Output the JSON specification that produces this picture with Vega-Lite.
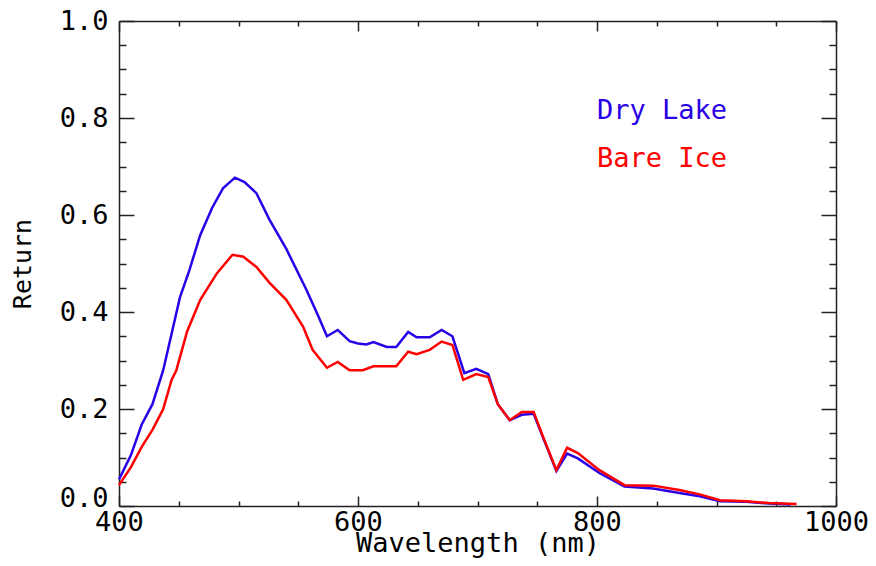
{
  "$schema": "https://vega.github.io/schema/vega-lite/v6.json",
  "width": 717,
  "height": 485,
  "autosize": {"type": "none"},
  "padding": {"left": 119, "top": 21, "right": 40, "bottom": 60},
  "background": "white",
  "config": {
    "view": {"stroke": null},
    "font": "DejaVu Sans Mono",
    "axis": {
      "labelFont": "DejaVu Sans Mono",
      "titleFont": "DejaVu Sans Mono",
      "labelColor": "black",
      "titleColor": "black",
      "domainColor": "#222222",
      "tickColor": "#222222",
      "grid": false,
      "labelFontWeight": "normal",
      "titleFontWeight": "normal"
    }
  },
  "datasets": {
    "spectra": [
      {"wl": 400, "v": 0.055, "s": "Dry Lake"},
      {"wl": 410, "v": 0.105, "s": "Dry Lake"},
      {"wl": 419, "v": 0.168, "s": "Dry Lake"},
      {"wl": 428, "v": 0.21, "s": "Dry Lake"},
      {"wl": 437, "v": 0.28, "s": "Dry Lake"},
      {"wl": 451, "v": 0.43, "s": "Dry Lake"},
      {"wl": 459, "v": 0.487, "s": "Dry Lake"},
      {"wl": 468, "v": 0.559, "s": "Dry Lake"},
      {"wl": 478, "v": 0.615, "s": "Dry Lake"},
      {"wl": 487, "v": 0.655, "s": "Dry Lake"},
      {"wl": 497, "v": 0.677, "s": "Dry Lake"},
      {"wl": 505, "v": 0.668, "s": "Dry Lake"},
      {"wl": 515, "v": 0.645, "s": "Dry Lake"},
      {"wl": 526, "v": 0.59, "s": "Dry Lake"},
      {"wl": 540, "v": 0.53, "s": "Dry Lake"},
      {"wl": 557, "v": 0.445, "s": "Dry Lake"},
      {"wl": 567, "v": 0.39, "s": "Dry Lake"},
      {"wl": 574, "v": 0.35, "s": "Dry Lake"},
      {"wl": 583, "v": 0.363, "s": "Dry Lake"},
      {"wl": 593, "v": 0.34, "s": "Dry Lake"},
      {"wl": 600, "v": 0.335, "s": "Dry Lake"},
      {"wl": 607, "v": 0.333, "s": "Dry Lake"},
      {"wl": 613, "v": 0.338, "s": "Dry Lake"},
      {"wl": 624, "v": 0.328, "s": "Dry Lake"},
      {"wl": 632, "v": 0.328, "s": "Dry Lake"},
      {"wl": 642, "v": 0.359, "s": "Dry Lake"},
      {"wl": 649, "v": 0.348, "s": "Dry Lake"},
      {"wl": 660, "v": 0.348, "s": "Dry Lake"},
      {"wl": 670, "v": 0.363, "s": "Dry Lake"},
      {"wl": 679, "v": 0.35, "s": "Dry Lake"},
      {"wl": 689, "v": 0.274, "s": "Dry Lake"},
      {"wl": 699, "v": 0.283, "s": "Dry Lake"},
      {"wl": 709, "v": 0.272, "s": "Dry Lake"},
      {"wl": 717, "v": 0.21, "s": "Dry Lake"},
      {"wl": 727, "v": 0.177, "s": "Dry Lake"},
      {"wl": 737, "v": 0.188, "s": "Dry Lake"},
      {"wl": 747, "v": 0.19, "s": "Dry Lake"},
      {"wl": 755, "v": 0.14, "s": "Dry Lake"},
      {"wl": 766, "v": 0.072, "s": "Dry Lake"},
      {"wl": 775, "v": 0.108, "s": "Dry Lake"},
      {"wl": 784, "v": 0.098, "s": "Dry Lake"},
      {"wl": 802, "v": 0.068, "s": "Dry Lake"},
      {"wl": 823, "v": 0.04, "s": "Dry Lake"},
      {"wl": 847, "v": 0.036, "s": "Dry Lake"},
      {"wl": 869, "v": 0.027, "s": "Dry Lake"},
      {"wl": 886, "v": 0.02, "s": "Dry Lake"},
      {"wl": 903, "v": 0.01, "s": "Dry Lake"},
      {"wl": 925, "v": 0.009, "s": "Dry Lake"},
      {"wl": 944, "v": 0.005, "s": "Dry Lake"},
      {"wl": 962, "v": 0.003, "s": "Dry Lake"},
      {"wl": 400, "v": 0.043, "s": "Bare Ice"},
      {"wl": 410, "v": 0.08, "s": "Bare Ice"},
      {"wl": 419, "v": 0.122, "s": "Bare Ice"},
      {"wl": 428, "v": 0.157, "s": "Bare Ice"},
      {"wl": 437, "v": 0.2, "s": "Bare Ice"},
      {"wl": 444, "v": 0.26, "s": "Bare Ice"},
      {"wl": 448, "v": 0.28, "s": "Bare Ice"},
      {"wl": 457, "v": 0.36, "s": "Bare Ice"},
      {"wl": 468, "v": 0.425, "s": "Bare Ice"},
      {"wl": 482, "v": 0.48, "s": "Bare Ice"},
      {"wl": 495, "v": 0.518, "s": "Bare Ice"},
      {"wl": 504, "v": 0.514, "s": "Bare Ice"},
      {"wl": 515, "v": 0.493, "s": "Bare Ice"},
      {"wl": 526, "v": 0.46, "s": "Bare Ice"},
      {"wl": 540, "v": 0.425, "s": "Bare Ice"},
      {"wl": 554, "v": 0.37, "s": "Bare Ice"},
      {"wl": 562, "v": 0.322, "s": "Bare Ice"},
      {"wl": 574, "v": 0.285, "s": "Bare Ice"},
      {"wl": 583, "v": 0.297, "s": "Bare Ice"},
      {"wl": 593, "v": 0.28, "s": "Bare Ice"},
      {"wl": 604, "v": 0.28, "s": "Bare Ice"},
      {"wl": 613, "v": 0.288, "s": "Bare Ice"},
      {"wl": 632, "v": 0.288, "s": "Bare Ice"},
      {"wl": 642, "v": 0.318, "s": "Bare Ice"},
      {"wl": 649, "v": 0.313, "s": "Bare Ice"},
      {"wl": 660, "v": 0.322, "s": "Bare Ice"},
      {"wl": 670, "v": 0.339, "s": "Bare Ice"},
      {"wl": 679, "v": 0.332, "s": "Bare Ice"},
      {"wl": 688, "v": 0.26, "s": "Bare Ice"},
      {"wl": 699, "v": 0.272, "s": "Bare Ice"},
      {"wl": 709, "v": 0.266, "s": "Bare Ice"},
      {"wl": 717, "v": 0.21, "s": "Bare Ice"},
      {"wl": 727, "v": 0.177, "s": "Bare Ice"},
      {"wl": 737, "v": 0.194, "s": "Bare Ice"},
      {"wl": 747, "v": 0.194, "s": "Bare Ice"},
      {"wl": 755, "v": 0.142, "s": "Bare Ice"},
      {"wl": 766, "v": 0.074, "s": "Bare Ice"},
      {"wl": 775, "v": 0.12, "s": "Bare Ice"},
      {"wl": 784, "v": 0.109, "s": "Bare Ice"},
      {"wl": 802, "v": 0.074, "s": "Bare Ice"},
      {"wl": 823, "v": 0.043, "s": "Bare Ice"},
      {"wl": 847, "v": 0.042, "s": "Bare Ice"},
      {"wl": 869, "v": 0.033, "s": "Bare Ice"},
      {"wl": 886, "v": 0.024, "s": "Bare Ice"},
      {"wl": 903, "v": 0.012, "s": "Bare Ice"},
      {"wl": 925, "v": 0.01, "s": "Bare Ice"},
      {"wl": 944, "v": 0.006, "s": "Bare Ice"},
      {"wl": 967, "v": 0.004, "s": "Bare Ice"}
    ],
    "labels": [
      {"wl": 800, "v": 0.798, "t": "Dry Lake"},
      {"wl": 800, "v": 0.699, "t": "Bare Ice"}
    ]
  },
  "data": {"name": "spectra"},
  "resolve": {"axis": {"x": "independent", "y": "independent"}},
  "layer": [
    {
      "transform": [{"filter": "datum.s === 'Dry Lake'"}],
      "mark": {"type": "line", "color": "#2a00e6", "strokeWidth": 2.5},
      "encoding": {
        "x": {
          "field": "wl", "type": "quantitative",
          "scale": {"domain": [400, 1000], "nice": false, "zero": false},
          "axis": {
            "orient": "bottom", "values": [400, 600, 800, 1000], "format": "d", "ticks": false,
            "domain": true, "domainWidth": 1.5,
            "labelFontSize": 27, "labelPadding": 3, "labelFlush": false, "labelOverlap": false,
            "title": "Wavelength (nm)", "titleFontSize": 27, "titlePadding": -5
          }
        },
        "y": {
          "field": "v", "type": "quantitative",
          "scale": {"domain": [0, 1], "nice": false},
          "axis": {
            "orient": "left", "values": [0, 0.2, 0.4, 0.6, 0.8, 1.0], "format": ".1f", "ticks": false,
            "domain": true, "domainWidth": 1.5,
            "labelFontSize": 27, "labelPadding": 11, "labelFlush": false, "labelOverlap": false,
            "labelBaseline": {"condition": {"test": "datum.value === 0", "value": "alphabetic"}, "value": "middle"},
            "title": "Return", "titleFontSize": 25, "titlePadding": 24
          }
        }
      }
    },
    {
      "transform": [{"filter": "datum.s === 'Bare Ice'"}],
      "mark": {"type": "line", "color": "#ff0000", "strokeWidth": 2.5},
      "encoding": {
        "x": {"field": "wl", "type": "quantitative", "axis": null},
        "y": {"field": "v", "type": "quantitative", "axis": null}
      }
    },
    {
      "mark": {"type": "line", "strokeOpacity": 0},
      "encoding": {
        "detail": {"field": "s"},
        "x": {
          "field": "wl", "type": "quantitative",
          "axis": {
            "orient": "bottom", "values": [400, 450, 500, 550, 600, 650, 700, 750, 800, 850, 900, 950, 1000],
            "labels": false, "domain": false, "title": null, "tickWidth": 1.5,
            "tickSize": {"condition": {"test": "datum.value % 200 === 0", "value": -10}, "value": -5}
          }
        },
        "y": {
          "field": "v", "type": "quantitative",
          "axis": {
            "orient": "left", "values": [0, 0.05, 0.1, 0.15, 0.2, 0.25, 0.3, 0.35, 0.4, 0.45, 0.5, 0.55, 0.6, 0.65, 0.7, 0.75, 0.8, 0.85, 0.9, 0.95, 1.0],
            "labels": false, "domain": false, "title": null, "tickWidth": 1.5,
            "tickSize": {"condition": {"test": "round(datum.value * 100) % 20 === 0", "value": -15}, "value": -7}
          }
        }
      }
    },
    {
      "mark": {"type": "line", "strokeOpacity": 0},
      "encoding": {
        "detail": {"field": "s"},
        "x": {
          "field": "wl", "type": "quantitative",
          "axis": {
            "orient": "top", "values": [400, 450, 500, 550, 600, 650, 700, 750, 800, 850, 900, 950, 1000],
            "labels": false, "domain": true, "domainWidth": 1.5, "title": null, "tickWidth": 1.5,
            "tickSize": {"condition": {"test": "datum.value % 200 === 0", "value": -10}, "value": -5}
          }
        },
        "y": {
          "field": "v", "type": "quantitative",
          "axis": {
            "orient": "right", "values": [0, 0.05, 0.1, 0.15, 0.2, 0.25, 0.3, 0.35, 0.4, 0.45, 0.5, 0.55, 0.6, 0.65, 0.7, 0.75, 0.8, 0.85, 0.9, 0.95, 1.0],
            "labels": false, "domain": true, "domainWidth": 1.5, "title": null, "tickWidth": 1.5,
            "tickSize": {"condition": {"test": "round(datum.value * 100) % 20 === 0", "value": -15}, "value": -7}
          }
        }
      }
    },
    {
      "data": {"name": "labels"},
      "mark": {"type": "text", "align": "left", "baseline": "alphabetic", "fontSize": 27, "font": "DejaVu Sans Mono"},
      "encoding": {
        "x": {"field": "wl", "type": "quantitative", "axis": null},
        "y": {"field": "v", "type": "quantitative", "axis": null},
        "text": {"field": "t"},
        "color": {
          "field": "t", "type": "nominal",
          "scale": {"domain": ["Dry Lake", "Bare Ice"], "range": ["#2a00e6", "#ff0000"]},
          "legend": null
        }
      }
    }
  ]
}
